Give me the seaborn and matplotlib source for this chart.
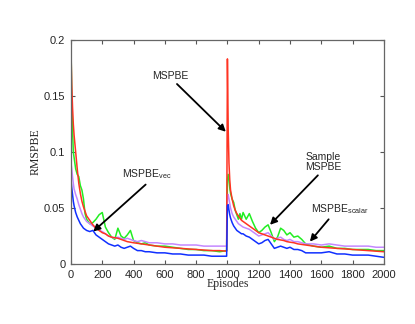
import matplotlib
matplotlib.use("Agg")
import matplotlib.pyplot as plt
import pandas as pd
import seaborn as sns

# episode grid (both halves of the run)
episodes = [0, 5, 10, 15, 20, 30, 40, 50, 60, 70, 80, 90, 100, 120, 140, 160, 180, 200,
            220, 240, 260, 280, 300, 320, 340, 360, 380, 400, 425, 450, 475, 500, 550, 600,
            650, 700, 750, 800, 850, 900, 950, 995,
            1000, 1005, 1010, 1015, 1020, 1030, 1040, 1050, 1060, 1070, 1080, 1090, 1100,
            1120, 1140, 1160, 1180, 1200, 1220, 1240, 1260, 1280, 1300, 1320, 1340, 1360,
            1380, 1400, 1425, 1450, 1475, 1500, 1550, 1600, 1650, 1700, 1750, 1800, 1850,
            1900, 1950, 2000]

mspbe = [0.19, 0.16, 0.14, 0.125, 0.115, 0.10, 0.085, 0.072, 0.063, 0.056, 0.051, 0.047,
         0.043, 0.039, 0.035, 0.032, 0.030, 0.028, 0.027, 0.025, 0.024, 0.0235, 0.023, 0.022,
         0.021, 0.020, 0.0195, 0.019, 0.0185, 0.018, 0.0175, 0.017, 0.016, 0.015, 0.0145,
         0.014, 0.0135, 0.013, 0.0125, 0.012, 0.012, 0.0115,
         0.183, 0.12, 0.09, 0.075, 0.066, 0.058, 0.052, 0.048, 0.045, 0.043, 0.041, 0.039,
         0.038, 0.036, 0.034, 0.032, 0.030, 0.028, 0.027, 0.026, 0.025, 0.024, 0.023, 0.022,
         0.0215, 0.021, 0.020, 0.0195, 0.019, 0.018, 0.0175, 0.017, 0.016, 0.015, 0.0145,
         0.014, 0.0135, 0.013, 0.0125, 0.012, 0.0115, 0.011]

sample_mspbe = [0.2, 0.145, 0.12, 0.10, 0.095, 0.085, 0.08, 0.078, 0.07, 0.066, 0.058, 0.045,
                0.04, 0.036, 0.037, 0.040, 0.044, 0.046, 0.033, 0.028, 0.024, 0.022, 0.032,
                0.025, 0.023, 0.026, 0.030, 0.021, 0.019, 0.018, 0.019, 0.017, 0.016, 0.016,
                0.015, 0.014, 0.013, 0.013, 0.012, 0.012, 0.011, 0.012,
                0.075, 0.08, 0.075, 0.068, 0.063, 0.058, 0.055, 0.048, 0.044, 0.040, 0.045,
                0.040, 0.046, 0.040, 0.045, 0.038, 0.032, 0.028, 0.030, 0.033, 0.035, 0.028,
                0.020, 0.024, 0.032, 0.030, 0.026, 0.028, 0.024, 0.025, 0.022, 0.018, 0.016,
                0.015, 0.016, 0.014, 0.014, 0.013, 0.013, 0.013, 0.012, 0.012]

mspbe_scalar = [0.09, 0.085, 0.078, 0.072, 0.067, 0.062, 0.058, 0.053, 0.049, 0.045, 0.042,
                0.040, 0.038, 0.036, 0.034, 0.032, 0.030, 0.029, 0.027, 0.025, 0.024, 0.023,
                0.024, 0.023, 0.022, 0.023, 0.022, 0.021, 0.020, 0.021, 0.020, 0.019, 0.019,
                0.018, 0.018, 0.017, 0.017, 0.017, 0.016, 0.016, 0.016, 0.016,
                0.062, 0.062, 0.058, 0.054, 0.050, 0.045, 0.042, 0.040, 0.038, 0.036, 0.035,
                0.034, 0.033, 0.032, 0.031, 0.029, 0.027, 0.025, 0.026, 0.027, 0.028, 0.025,
                0.022, 0.023, 0.024, 0.022, 0.021, 0.022, 0.020, 0.020, 0.019, 0.018, 0.018,
                0.017, 0.018, 0.017, 0.016, 0.016, 0.016, 0.016, 0.015, 0.015]

mspbe_vec = [0.075, 0.068, 0.062, 0.056, 0.052, 0.046, 0.042, 0.039, 0.036, 0.034, 0.032,
             0.031, 0.030, 0.029, 0.030, 0.026, 0.024, 0.022, 0.020, 0.018, 0.017, 0.016,
             0.017, 0.015, 0.014, 0.015, 0.016, 0.014, 0.012, 0.012, 0.011, 0.011, 0.010,
             0.010, 0.009, 0.009, 0.008, 0.008, 0.008, 0.007, 0.007, 0.007,
             0.052, 0.053, 0.048, 0.044, 0.041, 0.037, 0.034, 0.032, 0.030, 0.029, 0.028,
             0.027, 0.027, 0.025, 0.024, 0.022, 0.020, 0.018, 0.019, 0.021, 0.022, 0.018,
             0.014, 0.015, 0.016, 0.015, 0.014, 0.015, 0.013, 0.013, 0.012, 0.010, 0.010,
             0.010, 0.011, 0.009, 0.009, 0.008, 0.008, 0.008, 0.007, 0.006]

series = {
    "Sample MSPBE": (sample_mspbe, "#22ee22"),
    "MSPBE scalar": (mspbe_scalar, "#c488ff"),
    "MSPBE": (mspbe, "#ff3322"),
    "MSPBE vec": (mspbe_vec, "#1030ff"),
}

sns.set_style("ticks")
plt.rcParams["font.family"] = ["Liberation Sans", "DejaVu Sans"]

fig = plt.figure(figsize=(4.15, 3.24), dpi=100)
ax = fig.add_axes([0.171, 0.185, 0.754, 0.692])

for name, (vals, col) in series.items():
    df = pd.DataFrame({"episode": episodes, "value": vals})
    sns.lineplot(data=df, x="episode", y="value", color=col, linewidth=1.1, ax=ax)

ax.set_xlim(0, 2000)
ax.set_ylim(0, 0.2)
ax.set_xticks(range(0, 2001, 200))
ax.set_yticks([0, 0.05, 0.1, 0.15, 0.2])
ax.set_yticklabels(["0", "0.05", "0.1", "0.15", "0.2"])
ax.tick_params(direction="in", length=3, labelsize=8, top=True, right=True,
               color="#555555", pad=4)
for sp in ax.spines.values():
    sp.set_color("#666666")
    sp.set_linewidth(0.9)

ax.set_xlabel("Episodes", family=["Liberation Serif"], fontsize=8.5, labelpad=-1)
ax.set_ylabel("RMSPBE", family=["Liberation Serif"], fontsize=8.5, labelpad=2)

arrow = dict(arrowstyle="-|>", color="black", lw=1.3, mutation_scale=10, shrinkA=0, shrinkB=0)
ax.annotate("MSPBE", xy=(990, 0.118), xytext=(633, 0.168), fontsize=7.5,
            ha="center", va="center", arrowprops=dict(arrow, relpos=(0.6, 0.0)))
ax.annotate("MSPBE$_{\\mathregular{vec}}$", xy=(142, 0.029), xytext=(485, 0.080), fontsize=7.5,
            ha="center", va="center", arrowprops=dict(arrow, relpos=(0.55, 0.0)))
ax.annotate("Sample\nMSPBE", xy=(1272, 0.035), xytext=(1610, 0.091), fontsize=7.5,
            ha="center", va="center", linespacing=1.0,
            arrowprops=dict(arrow, relpos=(0.45, 0.0)))
ax.annotate("MSPBE$_{\\mathregular{scalar}}$", xy=(1527, 0.020), xytext=(1720, 0.049),
            fontsize=7.5, ha="center", va="center",
            arrowprops=dict(arrow, relpos=(0.35, 0.0)))

fig.savefig("out.png", dpi=100)
